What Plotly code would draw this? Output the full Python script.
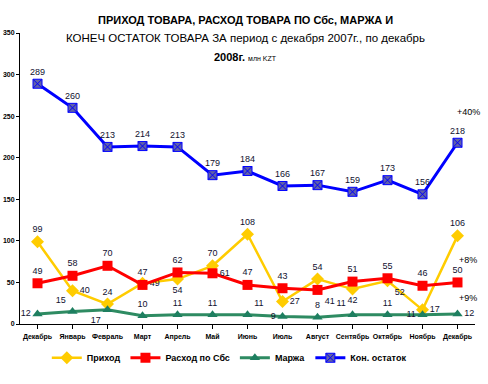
import plotly.graph_objects as go

months = ["Декабрь", "Январь", "Февраль", "Март", "Апрель", "Май", "Июнь",
          "Июль", "Август", "Сентябрь", "Октябрь", "Ноябрь", "Декабрь"]
prihod = [99, 40, 24, 49, 54, 70, 108, 27, 54, 42, 52, 17, 106]
rashod = [49, 58, 70, 47, 62, 61, 47, 43, 41, 51, 55, 46, 50]
marzha = [12, 15, 17, 10, 11, 11, 11, 9, 8, 11, 11, 11, 12]
ostatok = [289, 260, 213, 214, 213, 179, 184, 166, 167, 159, 173, 156, 218]

pos_prihod = ["top center", "middle right", "top center", "middle right", "bottom center",
              "top center", "top center", "middle right", "top center", "bottom center",
              "bottom right", "middle right", "top center"]
pos_rashod = ["top center", "top center", "top center", "top center", "top center",
              "middle right", "top center", "top center", "bottom right", "top center",
              "top center", "top center", "top center"]
pos_marzha = ["middle left", "top left", "bottom left", "top center", "top center",
              "top center", "top right", "middle left", "top center", "top left",
              "top center", "middle left", "middle right"]

FONT = "Liberation Sans Narrow, Arial Narrow, Liberation Sans, Arial"
LBL = dict(family=FONT, size=9, color="#101030")
idx = list(range(len(months)))

fig = go.Figure()
fig.add_trace(go.Scatter(x=idx, y=prihod, name="Приход", mode="lines+markers+text",
                         line=dict(color="#FFCC00", width=2.5),
                         marker=dict(symbol="diamond", size=10, color="#FFCC00"),
                         text=[str(v) for v in prihod], textposition=pos_prihod, textfont=LBL))
fig.add_trace(go.Scatter(x=idx, y=rashod, name="Расход по Сбс", mode="lines+markers+text",
                         line=dict(color="#FF0000", width=3),
                         marker=dict(symbol="square", size=10, color="#FF0000"),
                         text=[str(v) for v in rashod], textposition=pos_rashod, textfont=LBL))
fig.add_trace(go.Scatter(x=idx, y=marzha, name="Маржа", mode="lines+markers+text",
                         line=dict(color="#2E8B62", width=3),
                         marker=dict(symbol="triangle-up", size=9, color="#1E7F60"),
                         text=[str(v) for v in marzha], textposition=pos_marzha, textfont=LBL))
fig.add_trace(go.Scatter(x=idx, y=ostatok, name="Кон. остаток", mode="lines+markers+text",
                         line=dict(color="#0000FF", width=3),
                         marker=dict(symbol="square-x", size=9, color="#6060A8",
                                     line=dict(color="#0000FF", width=1)),
                         text=[str(v) for v in ostatok], textposition="top center", textfont=LBL))

fig.update_layout(
    width=488, height=384,
    margin=dict(l=20, r=13, t=33, b=50),
    paper_bgcolor="white", plot_bgcolor="white",
    showlegend=True,
    legend=dict(orientation="h", x=0.46, xanchor="center", y=-0.116, yanchor="middle",
                font=dict(family=FONT, size=9, color="black", weight="bold"), itemwidth=30),
    xaxis=dict(tickmode="array", tickvals=idx, ticktext=months,
               range=[-0.5, 12.5], showgrid=False, zeroline=False,
               showline=True, linecolor="black", linewidth=1,
               ticks="outside", ticklen=4, tickcolor="black", tickson="boundaries",
               tickangle=0, automargin=False, ticklabelstandoff=2,
               tickfont=dict(family=FONT, size=7, color="black", weight="bold")),
    yaxis=dict(range=[0, 350], dtick=50, showgrid=False, zeroline=False,
               showline=True, linecolor="black", linewidth=1,
               ticks="outside", ticklen=3, tickcolor="black", automargin=False,
               tickfont=dict(family=FONT, size=7, color="black", weight="bold"),
               tickformat="d"),
)

fig.add_annotation(xref="paper", yref="paper", x=0.495, y=1.043, yanchor="middle", showarrow=False,
                   text="<b>ПРИХОД ТОВАРА, РАСХОД ТОВАРА ПО Сбс, МАРЖА И</b>",
                   font=dict(family=FONT, size=11, color="black"))
fig.add_annotation(xref="paper", yref="paper", x=0.495, y=0.982, yanchor="middle", showarrow=False,
                   text="КОНЕЧ ОСТАТОК ТОВАРА ЗА период с декабря 2007г., по декабрь",
                   font=dict(family=FONT, size=11.5, color="black"))
fig.add_annotation(xref="paper", yref="paper", x=0.495, y=0.917, yanchor="middle", showarrow=False,
                   text="<b>2008г.</b> <span style='font-size:7px'>млн KZT</span>",
                   font=dict(family=FONT, size=11, color="black"))
for txt, yv in [("+40%", 255), ("+8%", 77), ("+9%", 31)]:
    fig.add_annotation(xref="paper", yref="y", x=0.985, y=yv, xanchor="center", showarrow=False,
                       text=txt, font=dict(family=FONT, size=9, color="black"))

fig.write_html("out.html", config={"displayModeBar": False},
               post_script="document.body.style.margin='0';document.body.style.overflow='hidden';")
